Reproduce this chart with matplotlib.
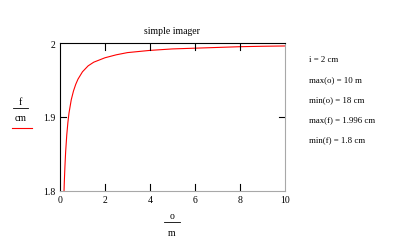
import matplotlib
matplotlib.use("Agg")
import matplotlib.pyplot as plt

# o in metres, f in cm
o_m = [0.18, 0.19, 0.2, 0.22, 0.25, 0.3, 0.35, 0.4, 0.5, 0.6, 0.7, 0.8, 1.0,
       1.25, 1.5, 2.0, 2.5, 3.0, 4.0, 5.0, 6.0, 7.0, 8.0, 9.0, 10.0]
f_cm = [1.800, 1.810, 1.818, 1.833, 1.852, 1.875, 1.892, 1.905, 1.923, 1.935,
        1.944, 1.951, 1.961, 1.969, 1.974, 1.980, 1.984, 1.987, 1.990, 1.992,
        1.993, 1.994, 1.995, 1.9956, 1.996]

xticks = [0, 2, 4, 6, 8, 10]
yticks = [1.8, 1.9, 2]
notes = ["i = 2 cm", "max(o) = 10 m", "min(o) = 18 cm",
         "max(f) = 1.996 cm", "min(f) = 1.8 cm"]

plt.rcParams['font.family'] = ['Liberation Serif', 'DejaVu Serif']

fig = plt.figure(figsize=(4, 2.53), dpi=100)
ax = fig.add_axes([0.15, 0.243, 0.562, 0.583])
ax.plot(o_m, f_cm, color="red", lw=0.8)
ax.set_xlim(0, 10)
ax.set_ylim(1.8, 2.0)

# labels only at the ends, tick marks only inside
ax.set_xticks(xticks)
ax.set_xticklabels([str(t) for t in xticks], fontsize=7)
ax.set_yticks(yticks)
ax.set_yticklabels(["1.8", "1.9", "2"], fontsize=7)
ax.tick_params(direction="in", length=0, pad=3)
for x in xticks[1:-1]:
    ax.plot([x, x], [1.8, 1.8 + 0.009], color="black", lw=0.8)
    ax.plot([x, x], [2.0, 2.0 - 0.009], color="black", lw=0.8)
ax.plot([0, 0.25], [1.9, 1.9], color="black", lw=0.8)
ax.plot([10, 10 - 0.25], [1.9, 1.9], color="black", lw=0.8)

ax.spines["left"].set_color("black")
ax.spines["top"].set_color("black")
ax.spines["bottom"].set_color("#a8a8a8")
ax.spines["right"].set_color("#a8a8a8")
for s in ax.spines.values():
    s.set_linewidth(0.8)

fig.text(0.43, 0.865, "simple imager", fontsize=7, ha="center")

# y label as fraction with legend line
fig.text(0.052, 0.585, "f", fontsize=7, ha="center")
fig.add_artist(plt.Line2D([0.032, 0.07], [0.57, 0.57], color="black", lw=0.6))
fig.text(0.052, 0.52, "cm", fontsize=7, ha="center")
fig.add_artist(plt.Line2D([0.03, 0.08], [0.49, 0.49], color="red", lw=0.8))

# x label as fraction
fig.text(0.43, 0.135, "o", fontsize=7, ha="center")
fig.add_artist(plt.Line2D([0.41, 0.45], [0.118, 0.118], color="black", lw=0.6))
fig.text(0.43, 0.068, "m", fontsize=7, ha="center")

for k, s in enumerate(notes):
    fig.text(0.773, 0.755 - k * 0.079, s, fontsize=6.3)

fig.savefig("out.png", dpi=100)
